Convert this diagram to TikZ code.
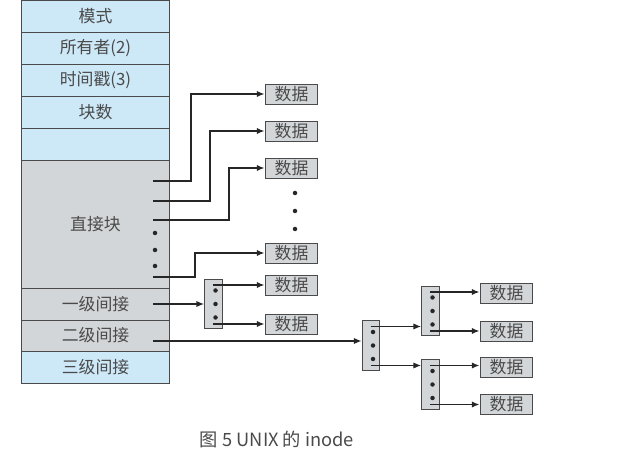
\documentclass[tikz,border=0pt]{standalone}
\usepackage{fontspec}
\setmainfont{Noto Sans CJK SC}
\usepackage{xcolor}
\usepackage{tikz}
\usetikzlibrary{arrows.meta}

\definecolor{rowblue}{HTML}{CDE9F8}
\definecolor{rowgray}{HTML}{D3D6D8}
\definecolor{edge}{HTML}{4A4A4A}
\definecolor{txt}{HTML}{4A4A4A}

\tikzset{
    row/.style={draw=edge, line width=0.7pt, minimum width=3.675cm, inner sep=0pt,
        text=txt, font=\fontsize{12}{13}\selectfont},
    datbox/.style={draw=edge, line width=0.7pt, fill=rowgray, minimum width=1.32cm,
        minimum height=0.5cm, inner sep=0pt, text=txt, font=\fontsize{12}{13}\selectfont},
    ptrbox/.style={draw=edge, line width=0.7pt, fill=rowgray, minimum width=0.44cm,
        minimum height=1.23cm, inner sep=0pt},
    link/.style={line width=1.2pt, draw=black!85, -{Latex[length=5.5pt,width=4.5pt]}},
    pip/.style={fill=black!85}
}

\begin{document}
\begin{tikzpicture}[x=0.025cm, y=-0.025cm]
                \useasboundingbox (0,0) rectangle (617,464);
                % inode table
                \foreach \i/\top/\bot/\col/\lab in {1/0.5/32/rowblue/模式, 2/32/64/rowblue/所有者(2),
                    3/64/96/rowblue/时间戳(3), 4/96/128/rowblue/块数, 5/128/160/rowblue/{},
                    6/160/288/rowgray/直接块, 7/288/320/rowgray/一级间接,
                    8/320/351/rowgray/二级间接, 9/351/383/rowblue/三级间接} {
                    \node[row, fill=\col, minimum height=(\bot-\top)*0.025cm] (r\i)
                        at (95.5,{(\top+\bot)/2}) {\lab};
                }
                % dots inside the direct block
                \foreach \y in {233,250,266} \fill[pip] (155,\y) circle (1.6pt);
                % data blocks
                \foreach \n/\x/\y in {d1/291.5/94, d2/291.5/131, d3/291.5/168, d4/291.5/253,
                    s1/291.5/285, s2/291.5/324,
                    t1/506.5/293, t2/506.5/331, t3/506.5/367, t4/506.5/404} {
                    \node[datbox] (\n) at (\x,\y) {数据};
                }
                \foreach \y in {193,211,229} \fill[pip] (295,\y) circle (1.6pt);
                % pointer blocks
                \foreach \n/\x/\y in {p1/213.5/304, p2/371/345.5, p3/430.5/311, p4/430.5/384.5} {
                    \node[ptrbox] (\n) at (\x,\y) {};
                    \foreach \k in {-1,0,1} \fill[pip] (\x+2,\y+\k*13.5) circle (1.6pt);
                    \coordinate (\n a) at (\x-0.5,\y-19);
                    \coordinate (\n b) at (\x-0.5,\y+20);
                }
                % direct pointers
                \coordinate (c1) at (153,181);
                \coordinate (c2) at (153,201);
                \coordinate (c3) at (153,220);
                \coordinate (c4) at (153,277);
                \draw[link] (c1) -- ++(38,0) |- (d1.west);
                \draw[link] (c2) -- ++(57,0) |- (d2.west);
                \draw[link] (c3) -- ++(76,0) |- (d3.west);
                \draw[link] (c4) -- ++(42,0) |- (d4.west);
                % single indirect
                \coordinate (e1) at (153,304);
                \draw[link] (e1) -- (e1 -| p1.west);
                \draw[link] (p1a) -- (p1a -| s1.west);
                \draw[link] (p1b) -- (p1b -| s2.west);
                % double indirect
                \coordinate (e2) at (153,341);
                \draw[link] (e2) -- (e2 -| p2.west);
                \draw[link] (p2a) -- (p2a -| p3.west);
                \draw[link] (p2b) -- (p2b -| p4.west);
                \draw[link] (p3a) -- (p3a -| t1.west);
                \draw[link] (p3b) -- (p3b -| t2.west);
                \draw[link] (p4a) -- (p4a -| t3.west);
                \draw[link] (p4b) -- (p4b -| t4.west);
                % caption
                \node[text=txt, font=\fontsize{13}{15}\selectfont] (cap) at (277,440) {图 5 UNIX 的 inode};
            \end{tikzpicture}
\end{document}
